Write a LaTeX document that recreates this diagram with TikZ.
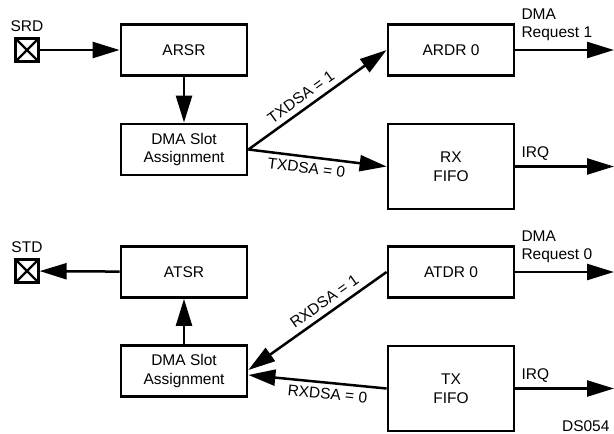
\documentclass[tikz,border=0pt]{standalone}
\usepackage{fontspec}
\setmainfont{Liberation Sans}
\usepackage{tikz}
\usetikzlibrary{positioning,arrows.meta,calc}
\tikzset{
  every node/.style={font=\fontsize{15.5}{18.5}\selectfont},
  block/.style={
    rectangle, draw=black, line width=2.8pt,
    minimum width=126pt, minimum height=51pt,
    align=center, inner sep=0pt
  },
  pin/.style={
    rectangle, draw=black, line width=2.4pt,
    minimum size=23pt, inner sep=0pt,
    path picture={\draw[line width=2.4pt] (path picture bounding box.north west) -- (path picture bounding box.south east)
      (path picture bounding box.north east) -- (path picture bounding box.south west);}
  },
  arrow/.style={
    -{Triangle[length=27pt,width=16pt]},
    line width=2.5pt, draw=black
  },
}
\begin{document}
\begin{tikzpicture}[x=1pt,y=-1pt]
  \useasboundingbox (0,0) rectangle (614,434);
  % receive side
  \node[pin] (srd) at (27,50) {};
  \node[above=2pt of srd] (srdlab) {SRD};
  \node[block] (arsr) at (184,50) {ARSR};
  \node[block] (dma1) at (184,149.5) {DMA Slot\\Assignment};
  \node[block] (ardr) at (451,50) {ARDR 0};
  \node[block, minimum height=85pt] (rxfifo) at (451,166.5) {RX\\FIFO};
  \coordinate (req1) at (614,50);
  \coordinate (irq1) at (614,166.5);
  \node[anchor=west, align=left] (req1lab) at (518,25) {DMA\\Request 1};
  \node[anchor=west] (irq1lab) at (518,154) {IRQ};
  \draw[arrow] (srd) -- (arsr);
  \draw[arrow] (arsr) -- (dma1);
  \draw[arrow] (dma1.east) -- node[pos=0.43, sloped, above=2pt] {TXDSA = 1} (ardr.west);
  \draw[arrow] (dma1.east) -- node[pos=0.43, sloped, below=1pt] {TXDSA = 0} (rxfifo.west);
  \draw[arrow] (ardr) -- (req1);
  \draw[arrow] (rxfifo) -- (irq1);
  % transmit side
  \node[pin] (std) at (27,271) {};
  \node[above=2pt of std] (stdlab) {STD};
  \node[block] (atsr) at (184,272) {ATSR};
  \node[block] (dma2) at (184,371) {DMA Slot\\Assignment};
  \node[block] (atdr) at (451,272) {ATDR 0};
  \node[block, minimum height=85pt] (txfifo) at (451,388.5) {TX\\FIFO};
  \coordinate (req0) at (614,272);
  \coordinate (irq2) at (614,388.5);
  \node[anchor=west, align=left] (req0lab) at (518,247) {DMA\\Request 0};
  \node[anchor=west] (irq2lab) at (518,376) {IRQ};
  \draw[arrow] (atsr) -- (std);
  \draw[arrow] (dma2) -- (atsr);
  \draw[arrow] (atdr.west) -- node[pos=0.4, sloped, above=2pt] {RXDSA = 1} ([yshift=1pt]dma2.east);
  \draw[arrow] (txfifo.west) -- node[pos=0.42, sloped, below=1pt] {RXDSA = 0} ([yshift=-4pt]dma2.east);
  \draw[arrow] (atdr) -- (req0);
  \draw[arrow] (txfifo) -- (irq2);
  \node[anchor=east] (dslab) at (613,426) {DS054};
\end{tikzpicture}
\end{document}
